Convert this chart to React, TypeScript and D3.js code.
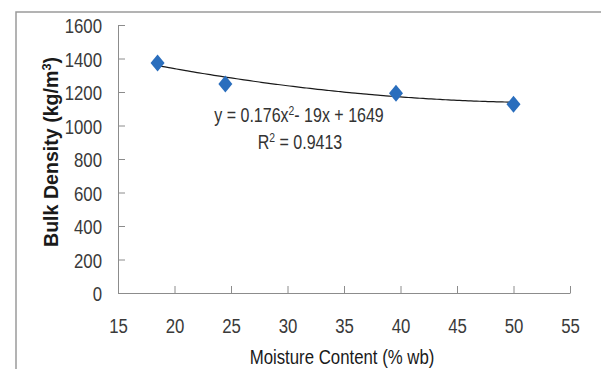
import { useEffect, useRef } from "react"
import * as d3 from "d3"

const moisture = [18.5, 24.5, 39.6, 50]
const density = [1373, 1248, 1193, 1127]
const xTickValues = [15, 20, 25, 30, 35, 40, 45, 50, 55]
const yTickValues = [0, 200, 400, 600, 800, 1000, 1200, 1400, 1600]
// trendline coefficients as printed on the chart: a*x^2 + b*x + c
const trendCoef = [0.176, -19, 1649]
const equationText = ["y = 0.176x", "2", "- 19x + 1649"]
const r2Text = "0.9413"

const W = 601
const H = 369
const FONT = "'Liberation Sans', Arial, sans-serif"
const SQ = 0.8 // horizontal squeeze to mimic the narrow Calibri look

const App = () => {
  const svgRef = useRef<SVGSVGElement>(null)

  useEffect(() => {
    const svg = d3.select(svgRef.current)
    svg.selectAll("*").remove()

    svg.append("rect").attr("width", W).attr("height", H).attr("fill", "#fff")

    // chart frame (only top and left edges visible in crop)
    svg.append("path")
      .attr("d", `M16,${H} V12 H${W}`)
      .attr("fill", "none")
      .attr("stroke", "#9a9a9a")
      .attr("stroke-width", 1.5)

    const x = d3.scaleLinear().domain([15, 55]).range([118, 570])
    const y = d3.scaleLinear().domain([0, 1600]).range([293, 25])

    // axes
    const axisColor = "#8c8c8c"
    const gx = svg.append("g").attr("transform", `translate(0,${y(0)})`)
      .call(d3.axisBottom(x).tickValues(xTickValues).tickFormat(d3.format("d")).tickSizeInner(-7).tickSizeOuter(0))
    gx.select(".domain").attr("stroke", axisColor)
    gx.selectAll(".tick line").attr("stroke", axisColor)
    gx.selectAll("text")
      .attr("fill", "#3a3a3a")
      .style("font-family", FONT)
      .style("font-size", "21px")
      .attr("y", 40)
      .attr("dy", null)
      .attr("transform", `scale(${SQ},1)`)

    const gy = svg.append("g").attr("transform", `translate(${x(15)},0)`)
      .call(d3.axisLeft(y).tickValues(yTickValues).tickFormat(d3.format("d")).tickSizeInner(-7).tickSizeOuter(0))
    gy.select(".domain").attr("stroke", axisColor)
    gy.selectAll(".tick line").attr("stroke", axisColor)
    gy.selectAll("text")
      .attr("fill", "#3a3a3a")
      .style("font-family", FONT)
      .style("font-size", "21px")
      .attr("x", -16 / SQ)
      .attr("dy", "0.36em")
      .attr("transform", `scale(${SQ},1)`)

    // trendline
    const xs = d3.range(moisture[0], moisture[moisture.length - 1] + 0.01, 0.5)
    const line = d3.line<number>()
      .x((d) => x(d))
      .y((d) => y(trendCoef[0] * d * d + trendCoef[1] * d + trendCoef[2]))
      .curve(d3.curveMonotoneX)
    svg.append("path")
      .datum(xs)
      .attr("fill", "none")
      .attr("stroke", "#1a1a1a")
      .attr("stroke-width", 1.2)
      .attr("d", line)

    // diamond markers
    svg.append("g")
      .selectAll("path")
      .data(moisture.map((m, i) => [m, density[i]]))
      .join("path")
      .attr("transform", (d) => `translate(${x(d[0])},${y(d[1])})`)
      .attr("d", "M0,-8.5 L7,0 L0,8.5 L-7,0 Z")
      .attr("fill", "#2a6ebd")

    // equation labels
    const eq = svg.append("g").attr("transform", `translate(299,122) scale(${SQ},1)`)
      .append("text")
      .attr("text-anchor", "middle")
      .attr("fill", "#333")
      .style("font-family", FONT)
      .style("font-size", "20px")
    eq.append("tspan").text(equationText[0])
    eq.append("tspan").attr("dy", -7).style("font-size", "13px").text(equationText[1])
    eq.append("tspan").attr("dy", 7).text(equationText[2])

    const r2 = svg.append("g").attr("transform", `translate(300,149) scale(${SQ},1)`)
      .append("text")
      .attr("text-anchor", "middle")
      .attr("fill", "#333")
      .style("font-family", FONT)
      .style("font-size", "20px")
    r2.append("tspan").text("R")
    r2.append("tspan").attr("dy", -7).style("font-size", "13px").text("2")
    r2.append("tspan").attr("dy", 7).text(" = " + r2Text)

    // axis titles
    svg.append("g").attr("transform", `translate(342,364) scale(${SQ},1)`)
      .append("text")
      .attr("text-anchor", "middle")
      .attr("fill", "#1a1a1a")
      .style("font-family", FONT)
      .style("font-size", "21px")
      .text("Moisture Content (% wb)")

    const yt = svg.append("g").attr("transform", `translate(58,152) rotate(-90) scale(0.98,1)`)
      .append("text")
      .attr("text-anchor", "middle")
      .attr("fill", "#1a1a1a")
      .style("font-family", FONT)
      .style("font-size", "20px")
      .style("font-weight", "bold")
    yt.append("tspan").text("Bulk Density (kg/m")
    yt.append("tspan").attr("dy", -7).style("font-size", "13px").text("3")
    yt.append("tspan").attr("dy", 7).text(")")
  }, [])

  return (
    <svg
      ref={svgRef}
      width={W}
      height={H}
      style={{ position: "absolute", left: 0, top: 0, display: "block" }}
    ></svg>
  )
}

export default App
